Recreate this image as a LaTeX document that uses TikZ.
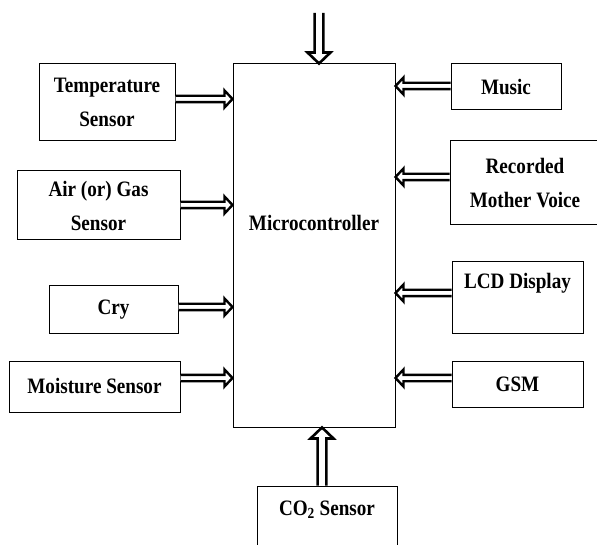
\documentclass[tikz,border=0pt]{standalone}
\usepackage{fontspec}
\newfontfamily\blkfont{Liberation Serif}[FakeStretch=0.87]
\usetikzlibrary{arrows.meta, positioning, calc}
\tikzset{
  blkbox/.style={draw, line width=1pt, inner sep=0pt, align=center, font=\blkfont\bfseries\fontsize{22}{34}\selectfont},
  shaft/.store in=\shafthalf, head/.store in=\headhalf, headlen/.store in=\headlen,
  fatarrow/.style={draw, fill=white, line width=2.4pt, line join=miter, shaft=3.2pt, head=8.5pt, headlen=8pt,
    to path={($(\tikztostart)!\shafthalf!90:(\tikztotarget)$)
      -- ($($(\tikztotarget)!\headlen!(\tikztostart)$)!\shafthalf!90:(\tikztotarget)$)
      -- ($($(\tikztotarget)!\headlen!(\tikztostart)$)!\headhalf!90:(\tikztotarget)$)
      -- (\tikztotarget)
      -- ($($(\tikztotarget)!\headlen!(\tikztostart)$)!\headhalf!-90:(\tikztotarget)$)
      -- ($($(\tikztotarget)!\headlen!(\tikztostart)$)!\shafthalf!-90:(\tikztotarget)$)
      -- ($(\tikztostart)!\shafthalf!-90:(\tikztotarget)$)}},
  bigarrow/.style={fatarrow, line width=2.6pt, shaft=4.4pt, head=11.5pt, headlen=11pt},
}

\begin{document}
\begin{tikzpicture}[x=1pt, y=-1pt]
  \useasboundingbox (0,0) rectangle (597,545);
  \clip (0,0) rectangle (597,545);
  % controller
  \node[blkbox, minimum width=162pt, minimum height=363pt] (mcu) at (314,245.5) {};
  \node[blkbox, draw=none] (mcutxt) at (314,223) {Microcontroller};
  % inputs on the left
  \node[blkbox, minimum width=136pt, minimum height=77pt] (temp) at (107,102.5) {Temperature\\Sensor};
  \node[blkbox, minimum width=163pt, minimum height=69pt] (air) at (98.5,205.5) {Air (or) Gas\\Sensor};
  \node[blkbox, minimum width=129pt, minimum height=47pt] (cry) at (113.5,309.5) {Cry};
  \node[blkbox, minimum width=171pt, minimum height=51pt] (moist) at (94.5,386.5) {Moisture Sensor};
  % blocks on the right
  \node[blkbox, minimum width=110pt, minimum height=46pt] (music) at (506,87) {Music};
  \node[blkbox, minimum width=150pt, minimum height=84pt] (voice) at (525,183) {Recorded\\Mother Voice};
  \node[blkbox, minimum width=131pt, minimum height=71pt] (lcd) at (517.5,297.5) {LCD Display\\~};
  \node[blkbox, minimum width=131pt, minimum height=46pt] (gsm) at (517.5,384) {GSM};
  \node[blkbox, minimum width=140pt, minimum height=78pt] (co2) at (327,525) {CO\textsubscript{2} Sensor\\~};
  \coordinate (topin) at (319,13);
  \coordinate (outco2) at ([xshift=-5pt]co2.north);
  % arrows
  \foreach \n/\s in {temp/3.5,air/0.5,cry/2.5,moist/8.5} {
    \coordinate (out\n) at ([yshift=\s pt]\n.east);
    \draw[fatarrow] (out\n) to (out\n -| mcu.west);
  }
  \foreach \n/\s in {music/1,voice/6,lcd/4.5,gsm/6} {
    \coordinate (out\n) at ([yshift=\s pt]\n.west);
    \draw[fatarrow] (out\n) to (out\n -| mcu.east);
  }
  \draw[bigarrow] (topin) to (topin |- mcu.north);
  \draw[bigarrow] (outco2) to (outco2 |- mcu.south);
\end{tikzpicture}
\end{document}
